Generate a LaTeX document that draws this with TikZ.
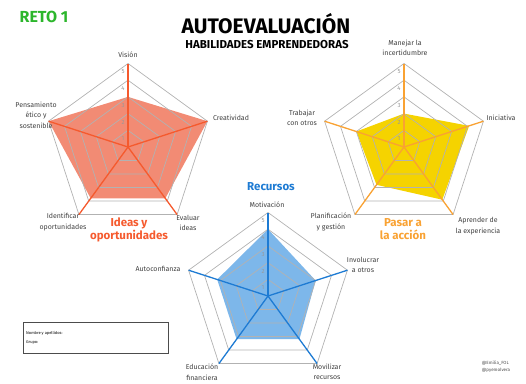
\documentclass[tikz,border=0pt]{standalone}
\usepackage{fontspec}
\setmainfont{Fira Sans}
\usetikzlibrary{positioning,calc}

\definecolor{ideasred}{HTML}{F55A2E}
\definecolor{ideasfill}{HTML}{F28B74}
\definecolor{accionorange}{HTML}{F9A233}
\definecolor{accionfill}{HTML}{F5D300}
\definecolor{recblue}{HTML}{1E7BD3}
\definecolor{recfill}{HTML}{7DB7EA}
\definecolor{retogreen}{HTML}{2CB62C}

\tikzstyle{ringline}=[gray!60, line width=0.7pt, line join=miter]
\tikzstyle{spoke}=[line width=1.3pt]
\tikzstyle{vlabel}=[font=\fontsize{7}{10.5}\selectfont, text=black!75, align=center, inner sep=0pt]
\tikzstyle{scalenum}=[font=\fontsize{6}{6}\selectfont, text=gray!80, inner sep=0pt]
\tikzstyle{charttitle}=[font=\fontsize{11.5}{13.5}\selectfont\bfseries, align=center, inner sep=0pt]

\begin{document}
\begin{tikzpicture}[x=1pt,y=-1pt]
    \useasboundingbox (0,0) rectangle (526,383);
    \def\U{16.7}   % one step of the scale
    % #1 name, #2 centre, #3 spoke colour, #4 fill colour, #5 values
    \def\radar#1#2#3#4#5{
      \coordinate (#1) at #2;
      \path \foreach \v [count=\i from 0] in {#5}{ ($(#1)+({-90+72*\i}:{\v*\U})$) coordinate (#1-v\i) };
      \fill[#4] (#1-v0) -- (#1-v1) -- (#1-v2) -- (#1-v3) -- (#1-v4) -- cycle;
      \foreach \r in {1,...,5}
        \draw[ringline] ($(#1)+(-90:\r*\U)$) \foreach \a in {-18,54,126,-162}{ -- ($(#1)+(\a:\r*\U)$)} -- cycle;
      \foreach \i in {0,...,4}
        \draw[spoke,#3] (#1) -- ($(#1)+({-90+72*\i}:5*\U)$) coordinate (#1-o\i);
      \foreach \n in {1,...,5}
        \node[scalenum] (#1-n\n) at ($(#1)+(-5,{-\n*\U+8.5})$) {\n};
    }

    % RADARS
    \radar{ideas}{(128,147)}{ideasred}{ideasfill}{3,5,3.8,3.8,5}
    \radar{accion}{(404,147)}{accionorange}{accionfill}{2,4.1,3.9,2.8,3}
    \radar{recursos}{(268,296)}{recblue}{recfill}{4,3,3.2,3.2,3.2}

    % TITLES
    \node[font=\fontsize{16}{16}\selectfont\bfseries, text=retogreen] (reto) at (44,17) {RETO 1};
    \node[font=\fontsize{21}{21}\selectfont\bfseries] (titulo) at (266,24) {AUTOEVALUACIÓN};
    \node[font=\fontsize{11.5}{12}\selectfont\bfseries] (subtitulo) at (267,45) {HABILIDADES EMPRENDEDORAS};

    % Ideas y oportunidades
    \node[vlabel] (vision) at (128,55) {Visión};
    \node[vlabel] (creatividad) at (231,118) {Creatividad};
    \node[vlabel] (evaluar) at (188,223) {Evaluar\\ideas};
    \node[vlabel] (identificar) at (63,222) {Identificar\\oportunidades};
    \node[vlabel] (pensamiento) at (36,115) {Pensamiento\\ético y\\sostenible};
    \node[charttitle, text=ideasred] (ideastit) at (129,230) {Ideas y\\oportunidades};

    % Pasar a la accion
    \node[vlabel] (manejar) at (405,48) {Manejar la\\incertidumbre};
    \node[vlabel] (iniciativa) at (501,118) {Iniciativa};
    \node[vlabel] (aprender) at (478,226) {Aprender de\\la experiencia};
    \node[vlabel] (planificacion) at (331,222) {Planificación\\y gestión};
    \node[vlabel] (trabajar) at (302,118) {Trabajar\\con otros};
    \node[charttitle, text=accionorange] (pasartit) at (403,229) {Pasar a\\la acción};

    % Recursos
    \node[charttitle, text=recblue] (recursostit) at (271,187) {Recursos};
    \node[vlabel] (motivacion) at (267,205) {Motivación};
    \node[vlabel] (involucrar) at (363,265) {Involucrar\\a otros};
    \node[vlabel] (movilizar) at (327,372) {Movilizar\\recursos};
    \node[vlabel] (educacion) at (202,372) {Educación\\financiera};
    \node[vlabel] (autoconfianza) at (158,269) {Autoconfianza};

    % datos del alumno
    \node[draw=black!70, line width=0.8pt, minimum width=145, minimum height=31, anchor=north west, inner sep=0pt] (datos) at (23,322) {};
    \node[font=\fontsize{4}{4}\selectfont, anchor=west, inner sep=0pt] (nombre) at (26,333) {Nombre y apellidos:};
    \node[font=\fontsize{4}{4}\selectfont, anchor=west, inner sep=0pt] (grupo) at (26,343) {Grupo:};

    \node[font=\fontsize{4.5}{7}\selectfont, align=left, text=black!70, inner sep=0pt] (credito) at (496,367) {@Emilia\_FOL\\@pyemolvera};
\end{tikzpicture}
\end{document}
